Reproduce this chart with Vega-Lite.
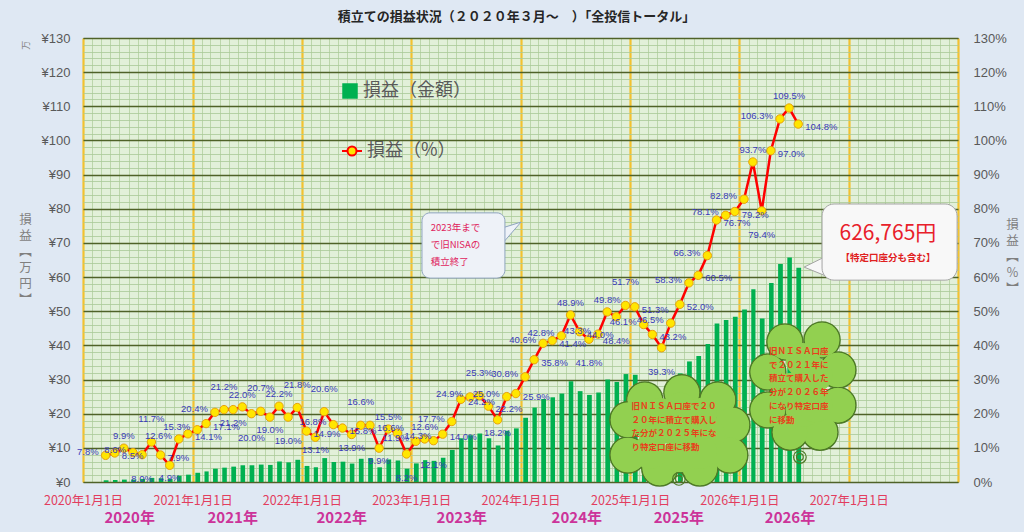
{
  "$schema": "https://vega.github.io/schema/vega-lite/v6.json",
  "description": "積立ての損益状況（2020年3月～）全投信トータル：月次の損益金額（棒）と損益率（折れ線）",
  "width": 875,
  "height": 444,
  "autosize": {"type": "none"},
  "padding": {"left": 83, "top": 38, "right": 66, "bottom": 50},
  "background": "#DFE8F3",
  "title": {
    "text": "積立ての損益状況（２０２０年３月～　）「全投信トータル」",
    "font": "Noto Sans CJK JP",
    "fontSize": 13,
    "fontWeight": "bold",
    "color": "#262626",
    "anchor": "middle",
    "offset": 8,
    "dx": -4
  },
  "config": {
    "view": {"fill": "#E2F0D9", "stroke": "#6B7A3A"},
    "font": "Noto Sans CJK JP"
  },
  "datasets": {
    "monthly": [
      {"date": "2020-03-15", "amt": 0.5, "pct": 7.8},
      {"date": "2020-04-15", "amt": 0.6, "pct": 8.5},
      {"date": "2020-05-15", "amt": 0.7, "pct": 9.9},
      {"date": "2020-06-15", "amt": 0.7, "pct": 8.6},
      {"date": "2020-07-15", "amt": 0.9, "pct": 8.0},
      {"date": "2020-08-15", "amt": 1.2, "pct": 11.7},
      {"date": "2020-09-15", "amt": 1.1, "pct": 7.9},
      {"date": "2020-10-15", "amt": 0.9, "pct": 4.9},
      {"date": "2020-11-15", "amt": 1.85, "pct": 12.6},
      {"date": "2020-12-15", "amt": 2.15, "pct": 14.1},
      {"date": "2021-01-15", "amt": 2.7, "pct": 15.3},
      {"date": "2021-02-15", "amt": 3.1, "pct": 17.1},
      {"date": "2021-03-15", "amt": 3.9, "pct": 20.4},
      {"date": "2021-04-15", "amt": 4.2, "pct": 21.2},
      {"date": "2021-05-15", "amt": 4.5, "pct": 21.2},
      {"date": "2021-06-15", "amt": 4.9, "pct": 22.0},
      {"date": "2021-07-15", "amt": 4.9, "pct": 20.0},
      {"date": "2021-08-15", "amt": 5.1, "pct": 20.7},
      {"date": "2021-09-15", "amt": 5.0, "pct": 19.0},
      {"date": "2021-10-15", "amt": 6.0, "pct": 22.2},
      {"date": "2021-11-15", "amt": 5.75, "pct": 19.0},
      {"date": "2021-12-15", "amt": 6.5, "pct": 21.8},
      {"date": "2022-01-15", "amt": 4.7, "pct": 14.9},
      {"date": "2022-02-15", "amt": 4.3, "pct": 13.1},
      {"date": "2022-03-15", "amt": 7.0, "pct": 20.6},
      {"date": "2022-04-15", "amt": 5.85, "pct": 16.8},
      {"date": "2022-05-15", "amt": 5.95, "pct": 15.8},
      {"date": "2022-06-15", "amt": 5.4, "pct": 13.9},
      {"date": "2022-07-15", "amt": 6.8, "pct": 16.6},
      {"date": "2022-08-15", "amt": 7.0, "pct": 16.6},
      {"date": "2022-09-15", "amt": 4.3, "pct": 9.9},
      {"date": "2022-10-15", "amt": 6.6, "pct": 15.5},
      {"date": "2022-11-15", "amt": 6.3, "pct": 14.3},
      {"date": "2022-12-15", "amt": 3.9, "pct": 8.2},
      {"date": "2023-01-15", "amt": 5.45, "pct": 11.9},
      {"date": "2023-02-15", "amt": 6.4, "pct": 12.6},
      {"date": "2023-03-15", "amt": 6.2, "pct": 12.1},
      {"date": "2023-04-15", "amt": 7.1, "pct": 14.0},
      {"date": "2023-05-15", "amt": 9.4, "pct": 17.7},
      {"date": "2023-06-15", "amt": 12.8, "pct": 24.2},
      {"date": "2023-07-15", "amt": 13.7, "pct": 24.9},
      {"date": "2023-08-15", "amt": 14.2, "pct": 25.3},
      {"date": "2023-09-15", "amt": 12.8, "pct": 22.2},
      {"date": "2023-10-15", "amt": 10.7, "pct": 18.2},
      {"date": "2023-11-15", "amt": 15.0, "pct": 25.0},
      {"date": "2023-12-15", "amt": 15.7, "pct": 25.9},
      {"date": "2024-01-15", "amt": 18.8, "pct": 30.8},
      {"date": "2024-02-15", "amt": 21.8, "pct": 35.8},
      {"date": "2024-03-15", "amt": 24.3, "pct": 40.6},
      {"date": "2024-04-15", "amt": 24.8, "pct": 41.4},
      {"date": "2024-05-15", "amt": 25.9, "pct": 42.8},
      {"date": "2024-06-15", "amt": 29.5, "pct": 48.9},
      {"date": "2024-07-15", "amt": 26.6, "pct": 44.0},
      {"date": "2024-08-15", "amt": 25.5, "pct": 41.8},
      {"date": "2024-09-15", "amt": 26.2, "pct": 43.3},
      {"date": "2024-10-15", "amt": 30.0, "pct": 49.8},
      {"date": "2024-11-15", "amt": 29.3, "pct": 48.4},
      {"date": "2024-12-15", "amt": 31.6, "pct": 51.7},
      {"date": "2025-01-15", "amt": 31.4, "pct": 51.3},
      {"date": "2025-02-15", "amt": 28.0, "pct": 46.1},
      {"date": "2025-03-15", "amt": 26.5, "pct": 43.2},
      {"date": "2025-04-15", "amt": 24.0, "pct": 39.3},
      {"date": "2025-05-15", "amt": 28.5, "pct": 46.5},
      {"date": "2025-06-15", "amt": 31.8, "pct": 52.0},
      {"date": "2025-07-15", "amt": 35.3, "pct": 58.3},
      {"date": "2025-08-15", "amt": 36.9, "pct": 60.5},
      {"date": "2025-09-15", "amt": 40.4, "pct": 66.3},
      {"date": "2025-10-15", "amt": 46.4, "pct": 76.7},
      {"date": "2025-11-15", "amt": 47.4, "pct": 78.1},
      {"date": "2025-12-15", "amt": 48.4, "pct": 79.2},
      {"date": "2026-01-15", "amt": 50.5, "pct": 82.8},
      {"date": "2026-02-15", "amt": 56.4, "pct": 93.7},
      {"date": "2026-03-15", "amt": 47.9, "pct": 79.4},
      {"date": "2026-04-15", "amt": 58.3, "pct": 97.0},
      {"date": "2026-05-15", "amt": 63.8, "pct": 106.3},
      {"date": "2026-06-15", "amt": 65.7, "pct": 109.5},
      {"date": "2026-07-15", "amt": 62.7, "pct": 104.8}
    ],
    "clouds": [
      {"part": "edge", "date": "2025-02-19", "v": 24.0},
      {"part": "edge", "date": "2025-06-23", "v": 26.1},
      {"part": "edge", "date": "2025-10-21", "v": 24.0},
      {"part": "edge", "date": "2025-12-07", "v": 16.7},
      {"part": "edge", "date": "2025-11-30", "v": 7.9},
      {"part": "edge", "date": "2025-08-22", "v": 4.1},
      {"part": "edge", "date": "2025-04-10", "v": 4.1},
      {"part": "edge", "date": "2024-12-25", "v": 7.9},
      {"part": "edge", "date": "2024-12-25", "v": 18.2},
      {"part": "core", "date": "2025-06-16", "v": 14.6},
      {"part": "core", "date": "2025-03-25", "v": 15.2},
      {"part": "core", "date": "2025-09-18", "v": 13.8},
      {"part": "core", "date": "2025-06-16", "v": 21.1},
      {"part": "core", "date": "2025-06-16", "v": 7.9},
      {"part": "core", "date": "2025-08-22", "v": 19.6},
      {"part": "core", "date": "2025-04-10", "v": 19.6},
      {"part": "core", "date": "2025-08-22", "v": 8.8},
      {"part": "core", "date": "2025-03-08", "v": 8.8},
      {"part": "edge", "date": "2026-06-02", "v": 41.0},
      {"part": "edge", "date": "2026-10-04", "v": 41.6},
      {"part": "edge", "date": "2026-11-26", "v": 32.8},
      {"part": "edge", "date": "2026-11-26", "v": 22.5},
      {"part": "edge", "date": "2026-09-27", "v": 14.6},
      {"part": "edge", "date": "2026-06-19", "v": 14.6},
      {"part": "edge", "date": "2026-04-06", "v": 21.1},
      {"part": "edge", "date": "2026-04-06", "v": 32.2},
      {"part": "core", "date": "2026-08-01", "v": 28.1},
      {"part": "core", "date": "2026-08-01", "v": 35.7},
      {"part": "core", "date": "2026-08-01", "v": 21.1},
      {"part": "core", "date": "2026-09-11", "v": 31.3},
      {"part": "core", "date": "2026-09-11", "v": 22.5},
      {"part": "core", "date": "2026-06-19", "v": 26.9}
    ],
    "swirls": [
      {"date": "2025-06-13", "v": 0.9},
      {"date": "2026-07-22", "v": 7.3}
    ],
    "boxes": [
      {"id": "nisa", "date": "2023-02-06", "date2": "2023-11-10", "v": 78.8, "v2": 59.7},
      {"id": "total", "date": "2026-10-04", "date2": "2027-12-29", "v": 81.4, "v2": 59.1}
    ],
    "pointers": [
      {"id": "nisa", "date": "2023-11-27", "v": 73.2},
      {"id": "total", "date": "2026-09-11", "v": 63.2}
    ],
    "notes": [
      {"id": "unit", "date": "2019-06-24", "v": 127.9, "text": "万"},
      {"id": "nisa", "date": "2023-03-07", "v": 75.8, "text": "2023年まで\nで旧NISAの\n積立終了"},
      {"id": "big", "date": "2027-05-12", "v": 72.6, "text": "626,765円"},
      {"id": "sub", "date": "2027-05-12", "v": 65.6, "text": "【特定口座分も含む】"},
      {"id": "cloud", "date": "2025-01-06", "v": 23.4, "text": "旧ＮＩＳＡ口座で２０\n２０年に積立て購入し\nた分が２０２５年にな\nり特定口座に移動"},
      {"id": "cloud", "date": "2026-04-10", "v": 39.5, "text": "旧ＮＩＳＡ口座\nで２０２１年に\n積立て購入した\n分が２０２６年\nになり特定口座\nに移動"}
    ],
    "years": [
      {"date": "2020-06-05", "label": "2020年"},
      {"date": "2021-05-15", "label": "2021年"},
      {"date": "2022-05-14", "label": "2022年"},
      {"date": "2023-06-19", "label": "2023年"},
      {"date": "2024-07-07", "label": "2024年"},
      {"date": "2025-06-13", "label": "2025年"},
      {"date": "2026-06-19", "label": "2026年"}
    ]
  },
  "resolve": {"axis": {"y": "independent"}},
  "layer": [
    {
      "data": {"name": "monthly"},
      "mark": {"type": "bar", "width": {"band": 0.62}},
      "encoding": {
        "x": {
          "field": "date",
          "timeUnit": "yearmonth",
          "type": "temporal",
          "scale": {"domain": [{"year": 2020, "month": 1, "date": 1}, {"year": 2028, "month": 1, "date": 1}]},
          "axis": {
            "title": null,
            "tickCount": {"interval": "month", "step": 1},
            "labelExpr": "month(datum.value) === 0 && year(datum.value) < 2028 ? timeFormat(datum.value, '%Y年%-m月%-d日') : ''",
            "labelOverlap": false,
            "labelBound": false,
            "labelFlush": false,
            "labelFontSize": 12.5,
            "labelColor": "#E23D5E",
            "labelFont": "Noto Sans CJK JP",
            "labelPadding": 12,
            "ticks": false,
            "domain": false,
            "grid": true,
            "gridColor": {"condition": {"test": "month(datum.value) === 0", "value": "#F2C230"}, "value": "#B3CFA0"},
            "gridWidth": {"condition": {"test": "month(datum.value) === 0", "value": 2.2}, "value": 0.8}
          }
        },
        "y": {
          "field": "amt",
          "type": "quantitative",
          "scale": {"domain": [0, 130], "nice": false},
          "axis": {
            "values": [0, 2, 4, 6, 8, 10, 12, 14, 16, 18, 20, 22, 24, 26, 28, 30, 32, 34, 36, 38, 40, 42, 44, 46, 48, 50, 52, 54, 56, 58, 60, 62, 64, 66, 68, 70, 72, 74, 76, 78, 80, 82, 84, 86, 88, 90, 92, 94, 96, 98, 100, 102, 104, 106, 108, 110, 112, 114, 116, 118, 120, 122, 124, 126, 128, 130],
            "labelExpr": "datum.value % 10 === 0 ? '¥' + datum.value : ''",
            "labelOverlap": false,
            "labelFontSize": 13,
            "labelFont": "Liberation Sans",
            "labelColor": "#595959",
            "labelPadding": 13,
            "ticks": false,
            "domain": false,
            "grid": true,
            "gridColor": {"condition": {"test": "datum.value % 10 === 0", "value": "#4F6228"}, "value": "#A9C998"},
            "gridWidth": {"condition": {"test": "datum.value % 10 === 0", "value": 1.5}, "value": 0.8},
            "title": ["損", "益", "︻", "万", "円", "︼"],
            "titleAngle": 0,
            "titleX": -58,
            "titleY": 175,
            "titleAlign": "center",
            "titleBaseline": "top",
            "titleFontSize": 12.5,
            "titleFontWeight": "normal",
            "titleColor": "#7F7F7F",
            "titleLineHeight": 16
          }
        },
        "fill": {
          "datum": "損益（金額）",
          "type": "nominal",
          "scale": {"range": ["#00B050"]},
          "legend": {
            "orient": "none",
            "legendX": 258,
            "legendY": 44,
            "title": null,
            "symbolType": "square",
            "symbolSize": 240,
            "symbolStrokeWidth": 0,
            "labelFontSize": 18,
            "labelColor": "#595959",
            "labelFont": "Noto Sans CJK JP"
          }
        }
      }
    },
    {
      "data": {"name": "clouds"},
      "transform": [{"filter": "datum.part === 'edge'"}],
      "mark": {"type": "point", "shape": "circle", "filled": true, "fill": "#92D050", "stroke": "#4E7A27", "strokeWidth": 1.5, "size": 1300, "opacity": 1},
      "encoding": {
        "x": {"field": "date", "type": "temporal"},
        "y": {"field": "v", "type": "quantitative", "axis": null}
      }
    },
    {
      "data": {"name": "clouds"},
      "mark": {"type": "point", "shape": "circle", "filled": true, "fill": "#92D050", "strokeWidth": 0, "size": 1180, "opacity": 1},
      "encoding": {
        "x": {"field": "date", "type": "temporal"},
        "y": {"field": "v", "type": "quantitative", "axis": null}
      }
    },
    {
      "data": {"name": "swirls"},
      "mark": {"type": "point", "shape": "circle", "filled": false, "stroke": "#4E7A27", "strokeWidth": 1.2, "size": 160, "opacity": 1},
      "encoding": {
        "x": {"field": "date", "type": "temporal"},
        "y": {"field": "v", "type": "quantitative", "axis": null}
      }
    },
    {
      "data": {"name": "swirls"},
      "mark": {"type": "point", "shape": "circle", "filled": false, "stroke": "#4E7A27", "strokeWidth": 1.2, "size": 45, "opacity": 1},
      "encoding": {
        "x": {"field": "date", "type": "temporal"},
        "y": {"field": "v", "type": "quantitative", "axis": null}
      }
    },
    {
      "data": {"name": "notes"},
      "transform": [{"filter": "datum.id === 'cloud'"}],
      "mark": {"type": "text", "align": "left", "baseline": "top", "lineBreak": "\n", "lineHeight": 13.7, "fontSize": 8.5, "fontWeight": "bold", "font": "Noto Sans CJK JP", "color": "#E8401C"},
      "encoding": {
        "x": {"field": "date", "type": "temporal"},
        "y": {"field": "v", "type": "quantitative", "axis": null},
        "text": {"field": "text"}
      }
    },
    {
      "data": {"name": "pointers"},
      "transform": [{"filter": "datum.id === 'nisa'"}],
      "mark": {"type": "point", "shape": "M0.92,-0.83L-0.67,-0.33L-0.67,1Z", "filled": true, "fill": "#EEF2F8", "stroke": "#8EA3BF", "strokeWidth": 1, "size": 576, "opacity": 1},
      "encoding": {
        "x": {"field": "date", "type": "temporal"},
        "y": {"field": "v", "type": "quantitative", "axis": null}
      }
    },
    {
      "data": {"name": "pointers"},
      "transform": [{"filter": "datum.id === 'total'"}],
      "mark": {"type": "point", "shape": "M-0.92,0.08L0.92,-0.83L0.92,0.83Z", "filled": true, "fill": "#F8F8F8", "stroke": "#A5A5A5", "strokeWidth": 1, "size": 576, "opacity": 1},
      "encoding": {
        "x": {"field": "date", "type": "temporal"},
        "y": {"field": "v", "type": "quantitative", "axis": null}
      }
    },
    {
      "data": {"name": "boxes"},
      "transform": [{"filter": "datum.id === 'nisa'"}],
      "mark": {"type": "rect", "cornerRadius": 8, "fill": "#EEF2F8", "stroke": "#8EA3BF", "strokeWidth": 1},
      "encoding": {
        "x": {"field": "date", "type": "temporal"},
        "x2": {"field": "date2"},
        "y": {"field": "v", "type": "quantitative", "axis": null},
        "y2": {"field": "v2"}
      }
    },
    {
      "data": {"name": "boxes"},
      "transform": [{"filter": "datum.id === 'total'"}],
      "mark": {"type": "rect", "cornerRadius": 12, "fill": "#F8F8F8", "stroke": "#A5A5A5", "strokeWidth": 1},
      "encoding": {
        "x": {"field": "date", "type": "temporal"},
        "x2": {"field": "date2"},
        "y": {"field": "v", "type": "quantitative", "axis": null},
        "y2": {"field": "v2"}
      }
    },
    {
      "data": {"name": "notes"},
      "transform": [{"filter": "datum.id === 'nisa'"}],
      "mark": {"type": "text", "align": "left", "baseline": "top", "lineBreak": "\n", "lineHeight": 16.7, "fontSize": 9.5, "font": "Noto Sans CJK JP", "color": "#E0245E"},
      "encoding": {
        "x": {"field": "date", "type": "temporal"},
        "y": {"field": "v", "type": "quantitative", "axis": null},
        "text": {"field": "text"}
      }
    },
    {
      "data": {"name": "notes"},
      "transform": [{"filter": "datum.id === 'big'"}],
      "mark": {"type": "text", "align": "center", "baseline": "middle", "fontSize": 21, "font": "Noto Sans CJK JP", "color": "#E8202A"},
      "encoding": {
        "x": {"field": "date", "type": "temporal"},
        "y": {"field": "v", "type": "quantitative", "axis": null},
        "text": {"field": "text"}
      }
    },
    {
      "data": {"name": "notes"},
      "transform": [{"filter": "datum.id === 'sub'"}],
      "mark": {"type": "text", "align": "center", "baseline": "middle", "fontSize": 9.5, "fontWeight": "bold", "font": "Noto Sans CJK JP", "color": "#E02020"},
      "encoding": {
        "x": {"field": "date", "type": "temporal"},
        "y": {"field": "v", "type": "quantitative", "axis": null},
        "text": {"field": "text"}
      }
    },
    {
      "data": {"name": "notes"},
      "transform": [{"filter": "datum.id === 'unit'"}],
      "mark": {"type": "text", "align": "center", "baseline": "middle", "angle": 270, "fontSize": 9, "font": "Noto Sans CJK JP", "color": "#7F7F7F"},
      "encoding": {
        "x": {"field": "date", "type": "temporal"},
        "y": {"field": "v", "type": "quantitative", "axis": null},
        "text": {"field": "text"}
      }
    },
    {
      "data": {"name": "monthly"},
      "mark": {"type": "line", "strokeWidth": 2.5},
      "encoding": {
        "x": {"field": "date", "timeUnit": "yearmonth", "type": "temporal", "bandPosition": 0.5},
        "y": {
          "field": "pct",
          "type": "quantitative",
          "axis": {
            "orient": "right",
            "values": [0, 10, 20, 30, 40, 50, 60, 70, 80, 90, 100, 110, 120, 130],
            "labelExpr": "datum.value + '%'",
            "labelAlign": "left",
            "labelPadding": 15,
            "labelFontSize": 13,
            "labelFont": "Liberation Sans",
            "labelColor": "#595959",
            "ticks": false,
            "domain": false,
            "grid": false,
            "title": ["損", "益", "︻", "％", "︼"],
            "titleAngle": 0,
            "titleX": 54,
            "titleY": 180,
            "titleAlign": "center",
            "titleBaseline": "top",
            "titleFontSize": 12.5,
            "titleFontWeight": "normal",
            "titleColor": "#7F7F7F",
            "titleLineHeight": 16
          }
        },
        "stroke": {
          "datum": "損益（%）",
          "type": "nominal",
          "scale": {"range": ["#FF0000"]},
          "legend": {
            "orient": "none",
            "legendX": 258,
            "legendY": 102,
            "title": null,
            "symbolType": "M-1,0L-0.45,0M0.45,0L1,0M-0.45,0A0.45,0.45,0,1,1,0.45,0A0.45,0.45,0,1,1,-0.45,0Z",
            "symbolSize": 400,
            "symbolStrokeColor": "#FF0000",
            "symbolFillColor": "#FFE600",
            "symbolStrokeWidth": 2,
            "labelFontSize": 18,
            "labelColor": "#595959",
            "labelFont": "Noto Sans CJK JP"
          }
        }
      }
    },
    {
      "data": {"name": "monthly"},
      "mark": {"type": "point", "filled": true, "fill": "#FFE600", "stroke": "#E8A10C", "strokeWidth": 1, "size": 70, "opacity": 1},
      "encoding": {
        "x": {"field": "date", "timeUnit": "yearmonth", "type": "temporal", "bandPosition": 0.5},
        "y": {"field": "pct", "type": "quantitative", "axis": null}
      }
    },
    {
      "data": {"name": "monthly"},
      "transform": [
        {"window": [{"op": "lag", "field": "pct", "as": "prev"}, {"op": "lead", "field": "pct", "as": "next"}], "sort": [{"field": "date"}]},
        {"calculate": "month(toDate(datum.date))", "as": "m"},
        {"calculate": "floor(datum.m / 2) % 2", "as": "lvl"},
        {"calculate": "datum.prev == null ? 'left' : datum.next == null ? 'right' : datum.pct === datum.prev ? (datum.next > datum.pct ? 'bot' + datum.lvl : 'right') : (datum.pct > datum.prev && datum.pct >= datum.next) ? 'top' + datum.lvl : (datum.pct < datum.prev && datum.pct <= datum.next) ? 'bot' + datum.lvl : ((datum.next > datum.pct) === (datum.m % 2 === 0)) ? 'left' : 'right'", "as": "side"},
        {"calculate": "format(datum.pct, '.1f') + '%'", "as": "label"}
      ],
      "encoding": {
        "x": {"field": "date", "timeUnit": "yearmonth", "type": "temporal", "bandPosition": 0.5},
        "y": {"field": "pct", "type": "quantitative", "axis": null},
        "text": {"field": "label"}
      },
      "layer": [
        {
          "transform": [{"filter": "datum.side === 'top0'"}],
          "mark": {"type": "text", "dy": -12, "fontSize": 9.5, "font": "Liberation Sans", "color": "#3A3AB8"}
        },
        {
          "transform": [{"filter": "datum.side === 'top1'"}],
          "mark": {"type": "text", "dy": -23, "fontSize": 9.5, "font": "Liberation Sans", "color": "#3A3AB8"}
        },
        {
          "transform": [{"filter": "datum.side === 'bot0'"}],
          "mark": {"type": "text", "dy": 13, "fontSize": 9.5, "font": "Liberation Sans", "color": "#3A3AB8"}
        },
        {
          "transform": [{"filter": "datum.side === 'bot1'"}],
          "mark": {"type": "text", "dy": 24, "fontSize": 9.5, "font": "Liberation Sans", "color": "#3A3AB8"}
        },
        {
          "transform": [{"filter": "datum.side === 'left'"}],
          "mark": {"type": "text", "align": "right", "dx": -7, "dy": -3, "fontSize": 9.5, "font": "Liberation Sans", "color": "#3A3AB8"}
        },
        {
          "transform": [{"filter": "datum.side === 'right'"}],
          "mark": {"type": "text", "align": "left", "dx": 7, "dy": 3, "fontSize": 9.5, "font": "Liberation Sans", "color": "#3A3AB8"}
        }
      ]
    },
    {
      "data": {"name": "years"},
      "mark": {"type": "text", "fontSize": 15, "fontWeight": "bold", "font": "Noto Sans CJK JP", "color": "#CC3399"},
      "encoding": {
        "x": {"field": "date", "type": "temporal"},
        "y": {"datum": -10.5, "axis": null},
        "text": {"field": "label"}
      }
    }
  ]
}
